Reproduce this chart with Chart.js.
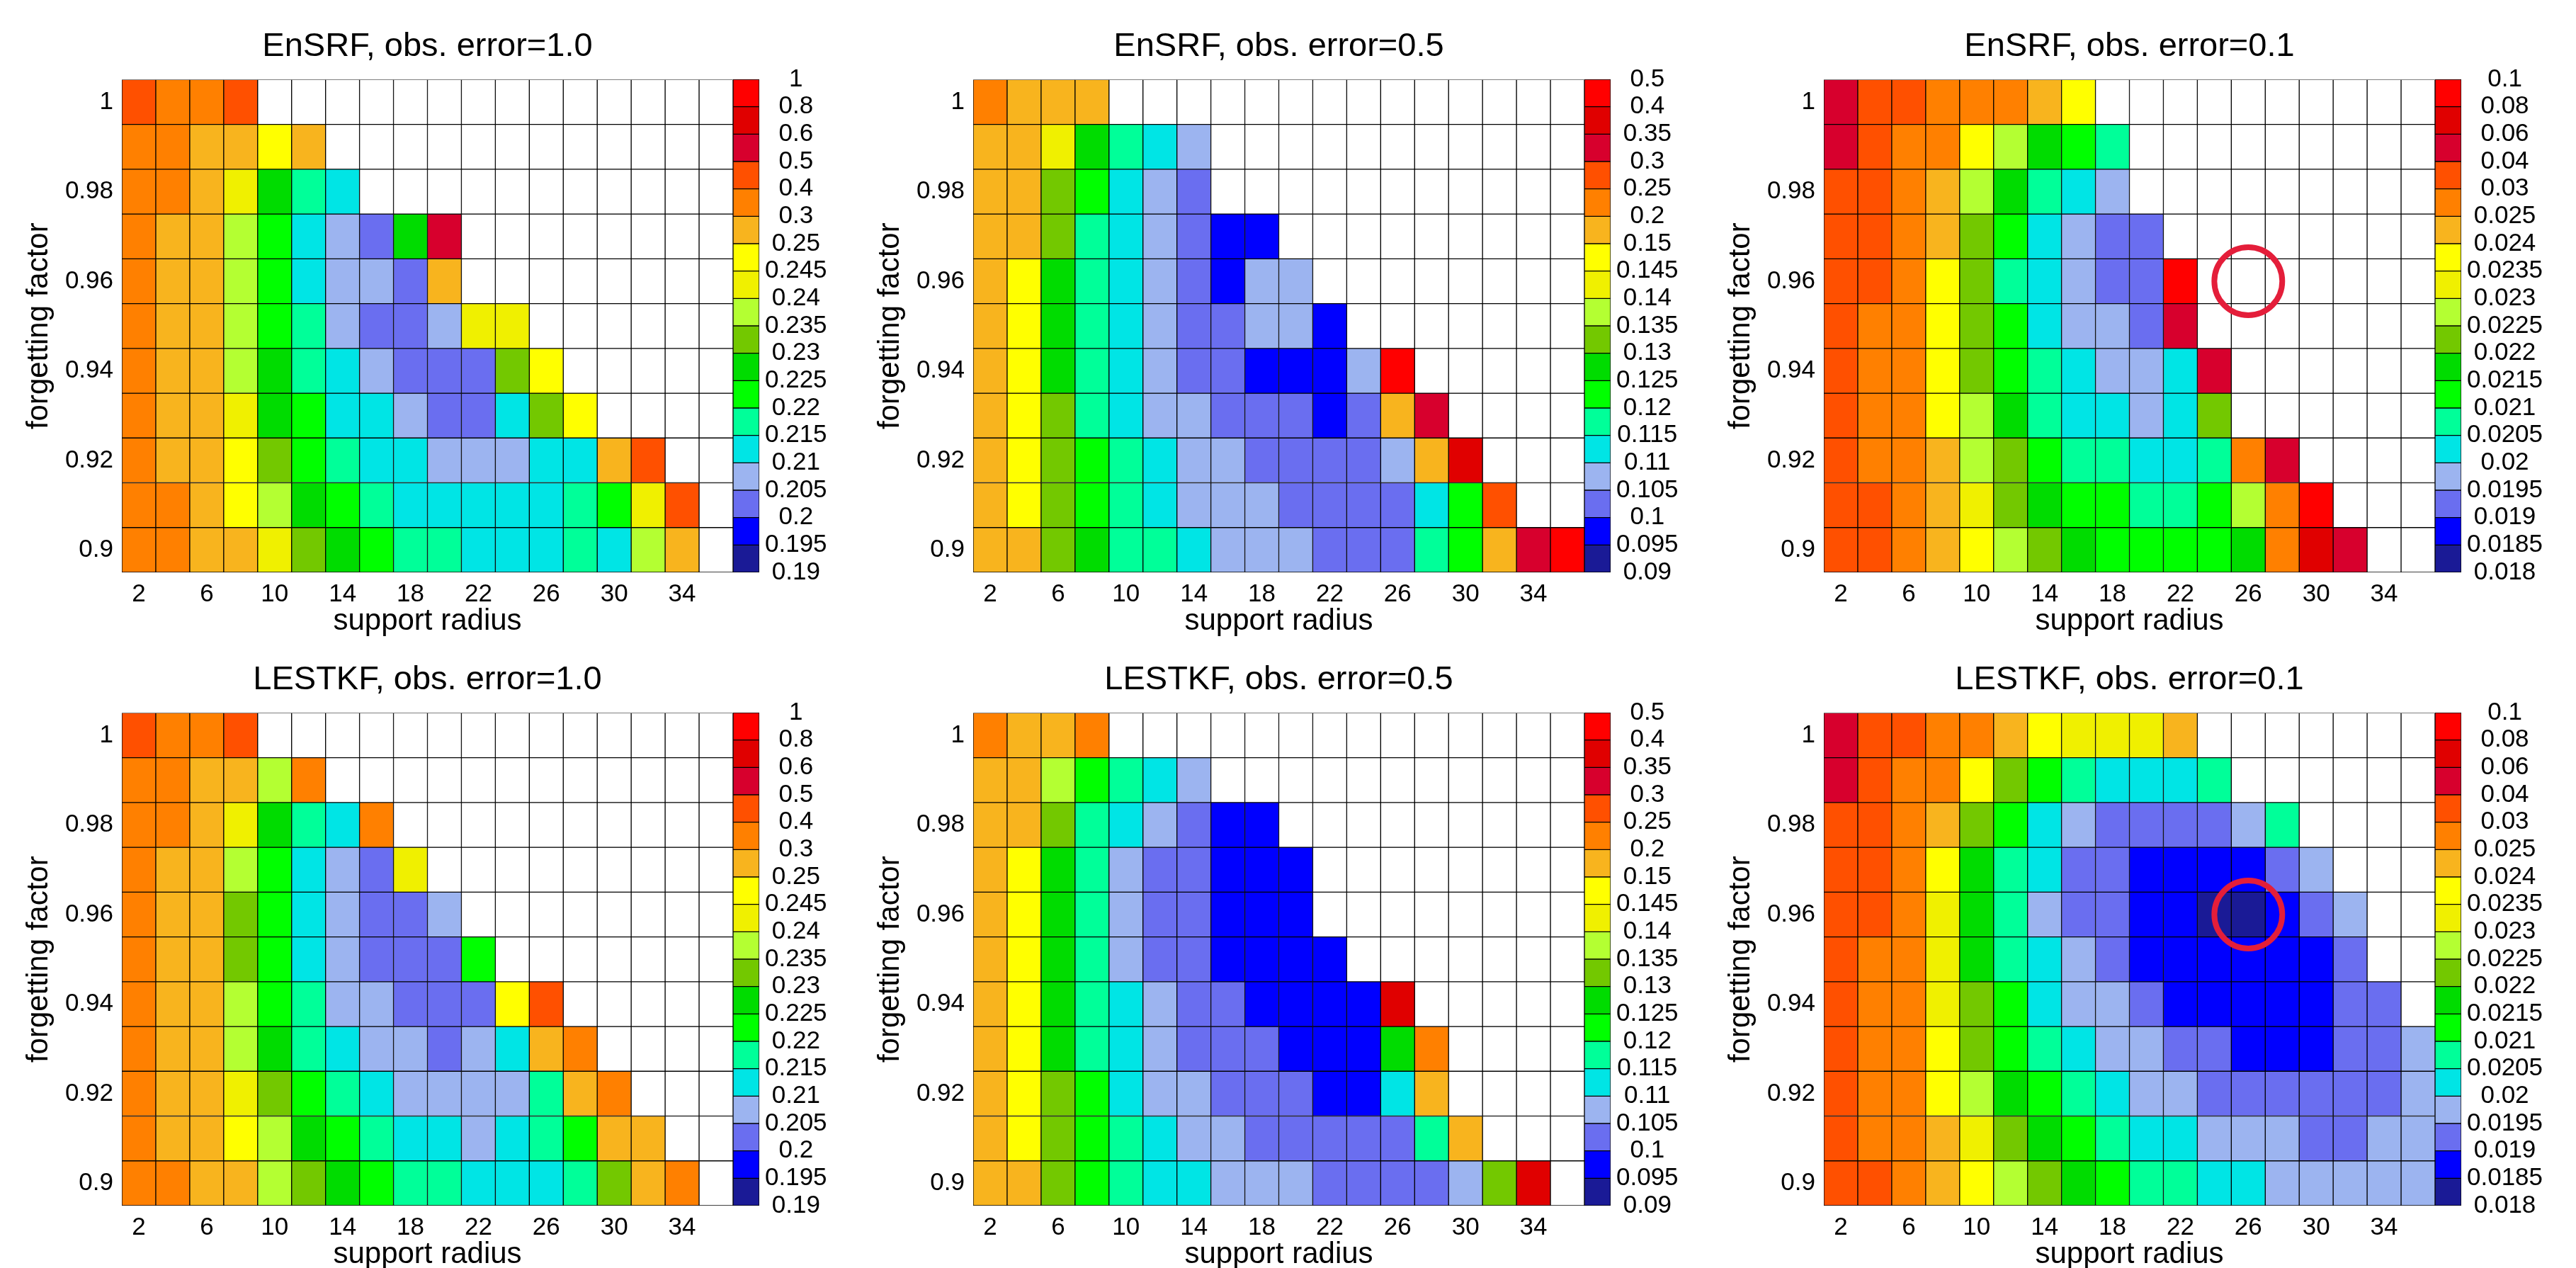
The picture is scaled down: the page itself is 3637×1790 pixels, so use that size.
<!DOCTYPE html>
<html>
<head>
<meta charset="utf-8">
<script src="https://cdn.jsdelivr.net/npm/chart.js@4"></script>
<style>
  html, body { margin: 0; padding: 0; background: #fff; overflow: hidden; width: 3637px; height: 1790px; }
  canvas { position: absolute; }
</style>
</head>
<body>
<script>
const _ = null;

// axes
const radii = [2, 4, 6, 8, 10, 12, 14, 16, 18, 20, 22, 24, 26, 28, 30, 32, 34, 36];
const forgetting = [1.0, 0.99, 0.98, 0.97, 0.96, 0.95, 0.94, 0.93, 0.92, 0.91, 0.9];
const radiusTicks = [2, 6, 10, 14, 18, 22, 26, 30, 34];
const factorTicks = [0.9, 0.92, 0.94, 0.96, 0.98, 1];

// colour levels (band edges) for the three observation errors
const levels10 = [0.19, 0.195, 0.2, 0.205, 0.21, 0.215, 0.22, 0.225, 0.23, 0.235, 0.24, 0.245, 0.25, 0.3, 0.4, 0.5, 0.6, 0.8, 1];
const levels05 = [0.09, 0.095, 0.1, 0.105, 0.11, 0.115, 0.12, 0.125, 0.13, 0.135, 0.14, 0.145, 0.15, 0.2, 0.25, 0.3, 0.35, 0.4, 0.5];
const levels01 = [0.018, 0.0185, 0.019, 0.0195, 0.02, 0.0205, 0.021, 0.0215, 0.022, 0.0225, 0.023, 0.0235, 0.024, 0.025, 0.03, 0.04, 0.06, 0.08, 0.1];
const bandColors = ['#1a1a96', '#0000ff', '#6a6ef0', '#9cb4f0', '#00e5e5', '#00ff99', '#00ff00', '#00dc00', '#73c800',
                    '#b4ff32', '#f0f000', '#ffff00', '#f8b41e', '#ff8000', '#ff5000', '#d7002d', '#e00000', '#ff0000'];

// RMS error, rows = forgetting factor (1.0 at top), columns = support radius
const ensrf10 = [
  [.45,.34,.34,.45,_,_,_,_,_,_,_,_,_,_,_,_,_,_],
  [.34,.34,.27,.27,.247,.27,_,_,_,_,_,_,_,_,_,_,_,_],
  [.34,.34,.27,.242,.227,.217,.212,_,_,_,_,_,_,_,_,_,_,_],
  [.34,.27,.27,.237,.222,.212,.207,.202,.227,.55,_,_,_,_,_,_,_,_],
  [.34,.27,.27,.237,.222,.212,.207,.207,.202,.27,_,_,_,_,_,_,_,_],
  [.34,.27,.27,.237,.222,.217,.207,.202,.202,.207,.242,.242,_,_,_,_,_,_],
  [.34,.27,.27,.237,.227,.217,.212,.207,.202,.202,.202,.232,.247,_,_,_,_,_],
  [.34,.27,.27,.242,.227,.222,.212,.212,.207,.202,.202,.212,.232,.247,_,_,_,_],
  [.34,.27,.27,.247,.232,.222,.217,.212,.212,.207,.207,.207,.212,.212,.27,.45,_,_],
  [.34,.34,.27,.247,.237,.227,.222,.217,.212,.212,.212,.212,.212,.217,.222,.242,.45,_],
  [.34,.34,.27,.27,.242,.232,.227,.222,.217,.217,.212,.212,.212,.217,.212,.237,.27,_]
];
const ensrf05 = [
  [.22,.17,.17,.17,_,_,_,_,_,_,_,_,_,_,_,_,_,_],
  [.17,.17,.142,.127,.117,.112,.107,_,_,_,_,_,_,_,_,_,_,_],
  [.17,.17,.132,.122,.112,.107,.102,_,_,_,_,_,_,_,_,_,_,_],
  [.17,.17,.132,.117,.112,.107,.102,.097,.097,_,_,_,_,_,_,_,_,_],
  [.17,.147,.127,.117,.112,.107,.102,.097,.107,.107,_,_,_,_,_,_,_,_],
  [.17,.147,.127,.117,.112,.107,.102,.102,.107,.107,.097,_,_,_,_,_,_,_],
  [.17,.147,.127,.117,.112,.107,.102,.102,.097,.097,.097,.107,.45,_,_,_,_,_],
  [.17,.147,.132,.117,.112,.107,.107,.102,.102,.102,.097,.102,.17,.32,_,_,_,_],
  [.17,.147,.132,.122,.117,.112,.107,.107,.102,.102,.102,.102,.107,.17,.37,_,_,_],
  [.17,.147,.132,.122,.117,.112,.107,.107,.107,.102,.102,.102,.102,.112,.122,.27,_,_],
  [.17,.17,.132,.127,.117,.117,.112,.107,.107,.107,.102,.102,.102,.117,.122,.17,.32,.45]
];
const ensrf01 = [
  [.05,.035,.035,.027,.027,.027,.0245,.0238,_,_,_,_,_,_,_,_,_,_],
  [.05,.035,.027,.027,.0238,.0228,.0218,.0213,.0208,_,_,_,_,_,_,_,_,_],
  [.035,.035,.027,.0245,.0228,.0218,.0208,.0203,.0198,_,_,_,_,_,_,_,_,_],
  [.035,.035,.027,.0245,.0223,.0213,.0203,.0198,.0193,.0193,_,_,_,_,_,_,_,_],
  [.035,.035,.027,.0238,.0223,.0208,.0203,.0198,.0193,.0193,.09,_,_,_,_,_,_,_],
  [.035,.027,.027,.0238,.0223,.0213,.0203,.0198,.0198,.0193,.05,_,_,_,_,_,_,_],
  [.035,.027,.027,.0238,.0223,.0213,.0208,.0203,.0198,.0198,.0203,.05,_,_,_,_,_,_],
  [.035,.027,.027,.0238,.0228,.0218,.0208,.0203,.0203,.0198,.0203,.0223,_,_,_,_,_,_],
  [.035,.027,.027,.0245,.0228,.0223,.0213,.0208,.0208,.0203,.0203,.0208,.027,.05,_,_,_,_],
  [.035,.035,.027,.0245,.0233,.0223,.0218,.0213,.0213,.0208,.0208,.0213,.0228,.027,.09,_,_,_],
  [.035,.035,.027,.0245,.0238,.0228,.0223,.0218,.0213,.0213,.0213,.0213,.0218,.027,.07,.05,_,_]
];
const lestkf10 = [
  [.45,.34,.34,.45,_,_,_,_,_,_,_,_,_,_,_,_,_,_],
  [.34,.34,.27,.27,.237,.34,_,_,_,_,_,_,_,_,_,_,_,_],
  [.34,.34,.27,.242,.227,.217,.212,.34,_,_,_,_,_,_,_,_,_,_],
  [.34,.27,.27,.237,.222,.212,.207,.202,.242,_,_,_,_,_,_,_,_,_],
  [.34,.27,.27,.232,.222,.212,.207,.202,.202,.207,_,_,_,_,_,_,_,_],
  [.34,.27,.27,.232,.222,.212,.207,.202,.202,.202,.222,_,_,_,_,_,_,_],
  [.34,.27,.27,.237,.222,.217,.207,.207,.202,.202,.202,.247,.45,_,_,_,_,_],
  [.34,.27,.27,.237,.227,.217,.212,.207,.207,.202,.207,.212,.27,.34,_,_,_,_],
  [.34,.27,.27,.242,.232,.222,.217,.212,.207,.207,.207,.207,.217,.27,.34,_,_,_],
  [.34,.27,.27,.247,.237,.227,.222,.217,.212,.212,.207,.212,.217,.222,.27,.27,_,_],
  [.34,.34,.27,.27,.237,.232,.227,.222,.217,.217,.212,.212,.212,.217,.232,.27,.34,_]
];
const lestkf05 = [
  [.22,.17,.17,.22,_,_,_,_,_,_,_,_,_,_,_,_,_,_],
  [.17,.17,.137,.122,.117,.112,.107,_,_,_,_,_,_,_,_,_,_,_],
  [.17,.17,.132,.117,.112,.107,.102,.097,.097,_,_,_,_,_,_,_,_,_],
  [.17,.147,.127,.117,.107,.102,.102,.097,.097,.097,_,_,_,_,_,_,_,_],
  [.17,.147,.127,.117,.107,.102,.102,.097,.097,.097,_,_,_,_,_,_,_,_],
  [.17,.147,.127,.117,.107,.102,.102,.097,.097,.097,.097,_,_,_,_,_,_,_],
  [.17,.147,.127,.117,.112,.107,.102,.102,.097,.097,.097,.097,.37,_,_,_,_,_],
  [.17,.147,.127,.117,.112,.107,.102,.102,.102,.097,.097,.097,.127,.22,_,_,_,_],
  [.17,.147,.132,.122,.112,.107,.107,.102,.102,.102,.097,.097,.112,.17,_,_,_,_],
  [.17,.147,.132,.122,.117,.112,.107,.107,.102,.102,.102,.102,.102,.117,.17,_,_,_],
  [.17,.17,.132,.122,.117,.112,.112,.107,.107,.107,.102,.102,.102,.102,.107,.132,.37,_]
];
const lestkf01 = [
  [.05,.035,.035,.027,.027,.0245,.0238,.0233,.0233,.0233,.0245,_,_,_,_,_,_,_],
  [.05,.035,.027,.027,.0238,.0223,.0213,.0208,.0203,.0203,.0203,.0208,_,_,_,_,_,_],
  [.035,.035,.027,.0245,.0223,.0213,.0203,.0198,.0193,.0193,.0193,.0193,.0198,.0208,_,_,_,_],
  [.035,.035,.027,.0238,.0218,.0208,.0203,.0193,.0193,.0188,.0188,.0188,.0188,.0193,.0198,_,_,_],
  [.035,.035,.027,.0233,.0218,.0208,.0198,.0193,.0193,.0188,.0188,.0183,.0183,.0188,.0193,.0198,_,_],
  [.035,.027,.027,.0233,.0218,.0208,.0203,.0198,.0193,.0188,.0188,.0188,.0188,.0188,.0188,.0193,_,_],
  [.035,.027,.027,.0233,.0223,.0213,.0203,.0198,.0198,.0193,.0188,.0188,.0188,.0188,.0188,.0193,.0193,_],
  [.035,.027,.027,.0238,.0223,.0213,.0208,.0203,.0198,.0198,.0193,.0193,.0188,.0188,.0188,.0193,.0193,.0198],
  [.035,.027,.027,.0238,.0228,.0218,.0213,.0208,.0203,.0198,.0198,.0193,.0193,.0193,.0193,.0193,.0193,.0198],
  [.035,.027,.027,.0245,.0233,.0223,.0218,.0213,.0208,.0203,.0203,.0198,.0198,.0198,.0193,.0193,.0198,.0198],
  [.035,.035,.027,.0245,.0238,.0228,.0223,.0218,.0213,.0208,.0208,.0203,.0203,.0198,.0198,.0198,.0198,.0198]
];

// highlighted optimum
const markRadius = 26;
const markFactor = 0.96;

const panels = [
  { title: 'EnSRF, obs. error=1.0',  values: ensrf10,  levels: levels10, col: 0, row: 0 },
  { title: 'EnSRF, obs. error=0.5',  values: ensrf05,  levels: levels05, col: 1, row: 0 },
  { title: 'EnSRF, obs. error=0.1',  values: ensrf01,  levels: levels01, col: 2, row: 0, mark: true },
  { title: 'LESTKF, obs. error=1.0', values: lestkf10, levels: levels10, col: 0, row: 1 },
  { title: 'LESTKF, obs. error=0.5', values: lestkf05, levels: levels05, col: 1, row: 1 },
  { title: 'LESTKF, obs. error=0.1', values: lestkf01, levels: levels01, col: 2, row: 1, mark: true }
];

// layout (px)
const plotLeft = [172, 1374, 2575];
const plotTop = [112, 1006];
const plotW = 863, plotH = 696, cbW = 37;
const axisW = 172, headH = 112, footH = 100;

Chart.defaults.font.family = "'Liberation Sans', Arial, Helvetica, sans-serif";
Chart.defaults.color = '#000';
Chart.defaults.animation = false;

function colorOf(v, lv) {
  if (v === null) return '#ffffff';
  for (let k = 0; k < bandColors.length; k++) {
    if (v < lv[k + 1]) return bandColors[k];
  }
  return bandColors[bandColors.length - 1];
}

function addCanvas(left, top, w, h) {
  const c = document.createElement('canvas');
  c.width = w; c.height = h;
  c.style.left = left + 'px'; c.style.top = top + 'px';
  c.style.width = w + 'px'; c.style.height = h + 'px';
  document.body.appendChild(c);
  return c;
}

const circleMark = {
  id: 'circleMark',
  afterDatasetsDraw(chart, args, opts) {
    if (!opts.show) return;
    const xs = chart.scales.x, ys = chart.scales.y;
    const cx = xs.getPixelForValue(radii.indexOf(markRadius));
    const cy = ys.getPixelForValue(markFactor);
    const r = xs.getPixelForValue(1) - xs.getPixelForValue(0);
    const ctx = chart.ctx;
    ctx.save();
    ctx.beginPath();
    ctx.arc(cx, cy, r, 0, Math.PI * 2);
    ctx.lineWidth = 8;
    ctx.strokeStyle = 'rgb(228,30,58)';
    ctx.stroke();
    ctx.restore();
  }
};

panels.forEach(p => {
  const left = plotLeft[p.col] - axisW;
  const top = plotTop[p.row] - headH;

  // heat map
  const heat = addCanvas(left, top, axisW + plotW, headH + plotH + footH);
  new Chart(heat, {
    type: 'bar',
    data: {
      labels: radii,
      datasets: forgetting.map((f, r) => ({
        data: radii.map(() => [f - 0.005, f + 0.005]),
        backgroundColor: p.values[r].map(v => colorOf(v, p.levels)),
        borderColor: '#000',
        borderWidth: 1,
        borderSkipped: false,
        grouped: false,
        barPercentage: 1,
        categoryPercentage: 1
      }))
    },
    options: {
      responsive: false,
      devicePixelRatio: 1,
      layout: { padding: 0 },
      plugins: {
        legend: { display: false },
        tooltip: { enabled: false },
        title: {
          display: true, text: p.title, fullSize: false,
          font: { size: 47, weight: 'normal' }, color: '#000',
          padding: { top: 38, bottom: 18 }
        },
        circleMark: { show: !!p.mark }
      },
      scales: {
        x: {
          grid: { display: false, drawTicks: false },
          border: { display: false },
          ticks: {
            autoSkip: false, maxRotation: 0, padding: 10,
            font: { size: 35 },
            callback: (v, i) => radiusTicks.includes(radii[i]) ? String(radii[i]) : ''
          },
          title: { display: true, text: 'support radius', font: { size: 42 }, padding: { top: 0, bottom: 5 } },
          afterFit: s => { s.height = footH; }
        },
        y: {
          type: 'linear', min: 0.895, max: 1.005,
          grid: { display: false, drawTicks: false },
          border: { display: false },
          afterBuildTicks: s => { s.ticks = factorTicks.map(v => ({ value: v })); },
          ticks: { padding: 12, font: { size: 35 }, callback: v => String(+v.toFixed(2)) },
          title: { display: true, text: 'forgetting factor', font: { size: 42 }, padding: { top: 30, bottom: 0 } },
          afterFit: s => { s.width = axisW; }
        }
      }
    },
    plugins: [circleMark]
  });

  // colour bar
  const cbAxis = 140, pad = 30;
  const bar = addCanvas(plotLeft[p.col] + plotW, plotTop[p.row] - pad, cbW + cbAxis, plotH + 2 * pad);
  new Chart(bar, {
    type: 'bar',
    data: {
      labels: [''],
      datasets: bandColors.map((c, k) => ({
        data: [[k, k + 1]],
        backgroundColor: c,
        borderColor: '#000',
        borderWidth: 1,
        borderSkipped: false,
        grouped: false,
        barPercentage: 1,
        categoryPercentage: 1
      }))
    },
    options: {
      responsive: false,
      devicePixelRatio: 1,
      layout: { padding: { top: pad, bottom: pad, left: 0, right: 0 } },
      plugins: { legend: { display: false }, tooltip: { enabled: false } },
      scales: {
        x: { display: false },
        y: {
          position: 'right', min: 0, max: bandColors.length,
          grid: { display: false, drawTicks: false },
          border: { display: false },
          afterBuildTicks: s => { s.ticks = p.levels.map((v, i) => ({ value: i })); },
          ticks: {
            autoSkip: false, padding: 8, crossAlign: 'center', font: { size: 35 },
            callback: v => String(p.levels[v])
          },
          afterFit: s => { s.width = cbAxis; }
        }
      }
    }
  });
});
</script>
</body>
</html>
